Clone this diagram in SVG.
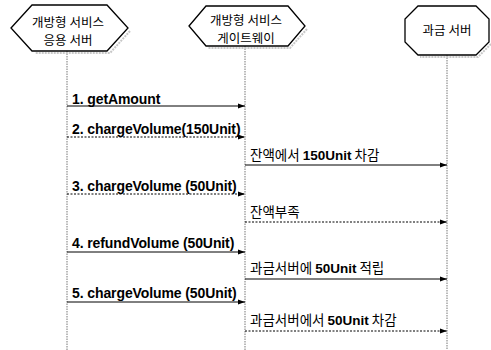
<svg xmlns="http://www.w3.org/2000/svg" width="491" height="350" viewBox="0 0 491 350">
<style>
.node{fill:#fff;stroke:#000;stroke-width:1.3}
.shadow{fill:none;stroke:#c8c8c8;stroke-width:2;stroke-dasharray:2 1}
.nt{font-family:"Noto Sans CJK KR","Liberation Sans",sans-serif;font-size:12.5px;text-anchor:middle;fill:#000}
.life{stroke:#777;stroke-width:1;stroke-dasharray:1.5 1}
.msg{stroke:#000;stroke-width:1;fill:none}
.dot{stroke-dasharray:2 1.5}
.ml{font-family:"Liberation Sans","Noto Sans CJK KR",sans-serif;font-size:14px;font-weight:bold;fill:#000;letter-spacing:-0.1px}
.kl{font-family:"Noto Sans CJK KR","Liberation Sans",sans-serif;font-size:13.5px;fill:#000}
.b{font-family:"Liberation Sans",sans-serif;font-weight:bold}
</style>
<defs>
<marker id="ah" markerWidth="7" markerHeight="6" refX="7" refY="3" orient="auto" markerUnits="userSpaceOnUse">
<path d="M0,0.5 L7,3 L0,5.5 Z" fill="#000"/>
</marker>
</defs>
<rect width="491" height="350" fill="#fff"/>
<g id="lifelines">
<line class="life" x1="67" y1="51" x2="67" y2="350"/>
<line class="life" x1="245" y1="46" x2="245" y2="350"/>
<line class="life" x1="447" y1="55" x2="447" y2="350"/>
</g>
<g id="node-app">
<polyline class="shadow" points="130,31 110,53 35,53"/>
<polygon class="node" points="11,28 32,5 107,5 128,28 107,51 32,51"/>
<text class="nt" x="68" y="27">개방형 서비스</text>
<text class="nt" x="68" y="45">응용 서버</text>
</g>
<g id="node-gw">
<polyline class="shadow" points="307,29 290,48 208,48"/>
<polygon class="node" points="189,26 206,6 288,6 305,26 288,46 206,46"/>
<text class="nt" x="246" y="25">개방형 서비스</text>
<text class="nt" x="246" y="43">게이트웨이</text>
</g>
<g id="node-billing">
<polyline class="shadow" points="491,44 478,57 420,57"/>
<polygon class="node" points="418,6 476,6 489,19 489,42 476,55 418,55 405,42 405,19"/>
<text class="nt" x="447" y="35">과금 서버</text>
</g>
<g id="connectors">
<line class="msg" x1="67" y1="106" x2="245" y2="106" marker-end="url(#ah)"/>
<line class="msg dot" x1="67" y1="137" x2="245" y2="137" marker-end="url(#ah)"/>
<line class="msg" x1="245" y1="165" x2="447" y2="165" marker-end="url(#ah)"/>
<line class="msg dot" x1="67" y1="194" x2="245" y2="194" marker-end="url(#ah)"/>
<line class="msg dot" x1="245" y1="222" x2="447" y2="222" marker-end="url(#ah)"/>
<line class="msg" x1="67" y1="252" x2="245" y2="252" marker-end="url(#ah)"/>
<line class="msg" x1="245" y1="279" x2="447" y2="279" marker-end="url(#ah)"/>
<line class="msg" x1="67" y1="302" x2="245" y2="302" marker-end="url(#ah)"/>
<line class="msg dot" x1="245" y1="331" x2="447" y2="331" marker-end="url(#ah)"/>
</g>
<g id="labels">
<text class="ml" x="72" y="104">1. getAmount</text>
<text class="ml" x="72" y="134">2. chargeVolume(150Unit)</text>
<text class="kl" x="250" y="160">잔액에서 <tspan class="b">150Unit</tspan> 차감</text>
<text class="ml" x="72" y="191">3. chargeVolume (50Unit)</text>
<text class="kl" x="250" y="217">잔액부족</text>
<text class="ml" x="72" y="248">4. refundVolume (50Unit)</text>
<text class="kl" x="250" y="273">과금서버에 <tspan class="b">50Unit</tspan> 적립</text>
<text class="ml" x="72" y="298">5. chargeVolume (50Unit)</text>
<text class="kl" x="250" y="325">과금서버에서 <tspan class="b">50Unit</tspan> 차감</text>
</g>
</svg>
